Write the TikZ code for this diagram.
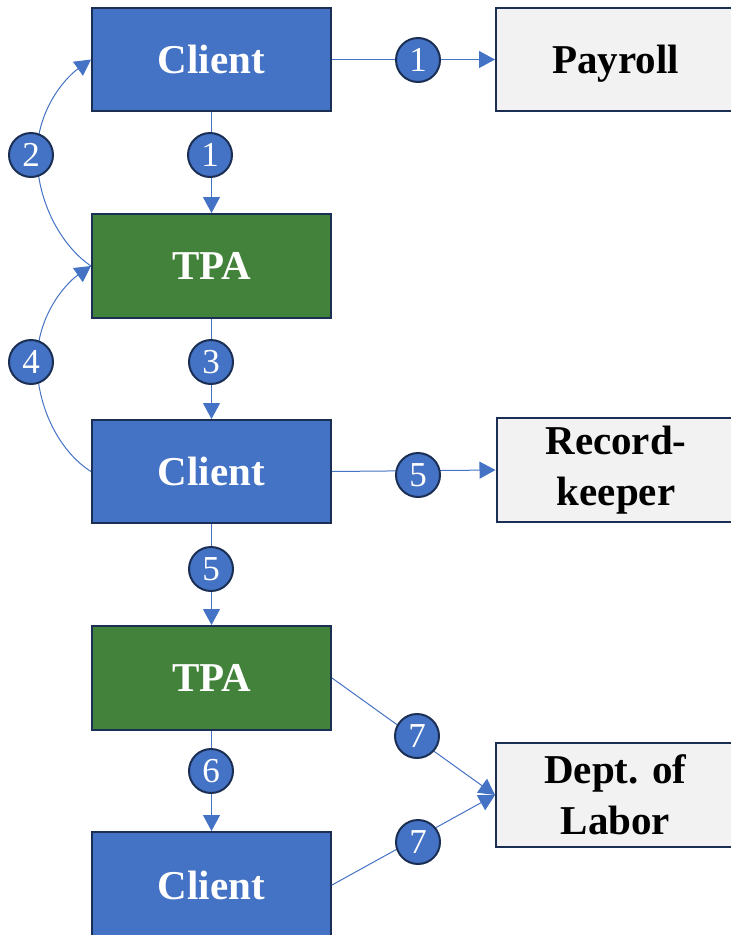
\documentclass[tikz,border=0pt]{standalone}
\usepackage{fontspec}
\setmainfont{Liberation Serif}
\usetikzlibrary{arrows.meta}
\definecolor{boxblue}{HTML}{4472C4}
\definecolor{boxgreen}{HTML}{43823A}
\definecolor{boxgrey}{HTML}{F2F2F2}
\definecolor{edgenavy}{HTML}{1B2F55}
\begin{document}
\begin{tikzpicture}[x=1pt,y=-1pt,
  box/.style={draw=edgenavy, line width=2pt, minimum width=239pt, minimum height=103pt,
    inner sep=0pt, align=center, font=\fontsize{41}{51}\selectfont\bfseries},
  party/.style={box, fill=boxblue, text=white},
  tpabox/.style={box, fill=boxgreen, text=white},
  outside/.style={box, fill=boxgrey, text=black},
  num/.style={circle, draw=edgenavy, line width=2pt, fill=boxblue, text=white,
    minimum size=44pt, inner sep=0pt, font=\fontsize{35}{35}\selectfont},
  flow/.style={draw=boxblue, line width=1pt, -{Triangle[length=16pt,width=17pt]}}]
\useasboundingbox (0,0) rectangle (731,935);

% boxes
\node[party]   (client1) at (211.5,59.5) {Client};
\node[outside, text depth=0pt, text height=27pt] (payroll) at (615.5,59.5) {Payroll};
\node[tpabox, minimum height=104pt] (tpa1) at (211.5,266) {TPA};
\node[party]   (client2) at (211.5,471.5) {Client};
\node[outside, minimum height=104pt] (rec) at (616,470) {Record-\\keeper};
\node[tpabox, minimum height=104pt] (tpa2) at (211.5,678) {TPA};
\node[outside, minimum height=104pt] (dol) at (615.5,795) {Dept. of\\Labor};
\node[party, minimum height=106pt] (client3) at (211.5,885) {Client};

% connectors
\draw[flow] (client1.east) -- (payroll.west);
\draw[flow] (client1.south) -- (tpa1.north);
\draw[flow] (tpa1.west) .. controls (60,245) and (37,200) .. (37,155)
  .. controls (37,110) and (65,78) .. (client1.west);
\draw[flow] (tpa1.south) -- (client2.north);
\draw[flow] (client2.west) .. controls (60,452) and (37,408) .. (37,362)
  .. controls (37,316) and (65,284) .. (tpa1.west);
\draw[flow] (client2.east) -- (rec.west);
\draw[flow] (client2.south) -- (tpa2.north);
\draw[flow] (tpa2.south) -- (client3.north);
\draw[flow] (tpa2.east) -- (dol.west);
\draw[flow] (client3.east) -- (dol.west);

% step numbers
\node[num] (s1a) at (418,60)  {1};
\node[num] (s1b) at (210,155) {1};
\node[num] (s2)  at (31,155)  {2};
\node[num] (s3)  at (211,362) {3};
\node[num] (s4)  at (31,362)  {4};
\node[num] (s5a) at (418,475) {5};
\node[num] (s5b) at (211,569) {5};
\node[num] (s6)  at (211,771) {6};
\node[num] (s7a) at (417,736) {7};
\node[num] (s7b) at (418,842) {7};
\end{tikzpicture}
\end{document}
